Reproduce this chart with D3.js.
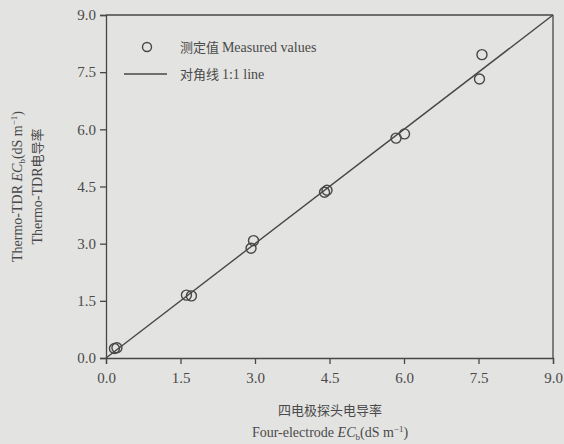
<!DOCTYPE html>
<html><head><meta charset="utf-8">
<script src="https://cdn.jsdelivr.net/npm/d3@7"></script>
<style>
html,body{margin:0;padding:0;background:#e3e3e1;}
svg{display:block;}
text{font-family:"Liberation Serif","Times New Roman",serif;fill:#4a4a4a;}
.cjk{font-family:"Noto Sans CJK SC",sans-serif;}
</style></head>
<body>
<script>
const xValues = [0.17, 0.22, 1.62, 1.72, 2.92, 2.97, 4.40, 4.45, 5.84, 6.01, 7.52, 7.57];
const yValues = [0.25, 0.27, 1.65, 1.63, 2.88, 3.08, 4.35, 4.40, 5.77, 5.88, 7.32, 7.96];
const tickValues = [0, 1.5, 3.0, 4.5, 6.0, 7.5, 9.0];
const oneToOne = [[0, 0], [9, 9]];
const legendLabels = ["测定值 Measured values", "对角线 1:1 line"];

const W = 564, H = 444;
const m = {left:106, right:11, top:15, bottom:86};
const svg = d3.select("body").append("svg").attr("width", W).attr("height", H);
const x = d3.scaleLinear().domain([0, 9]).range([m.left, W - m.right]);
const y = d3.scaleLinear().domain([0, 9]).range([H - m.bottom, m.top]);
const ink = "#474747";

const fmt = d3.format(".1f");
const gx = svg.append("g").attr("transform", `translate(0,${H - m.bottom})`)
  .call(d3.axisBottom(x).tickValues(tickValues).tickFormat(fmt).tickSize(6).tickPadding(8));
const gy = svg.append("g").attr("transform", `translate(${m.left},0)`)
  .call(d3.axisLeft(y).tickValues(tickValues).tickFormat(fmt).tickSize(6).tickPadding(4));
[gx, gy].forEach(g => {
  g.selectAll("path,line").attr("stroke", ink).attr("stroke-width", 1.3);
  g.selectAll("text").style("font-family", '"Liberation Serif",serif').style("font-size", "15px").attr("fill", "#4a4a4a");
});
// top and right frame
svg.append("line").attr("x1", x(0)).attr("x2", x(9)).attr("y1", y(9)).attr("y2", y(9)).attr("stroke", ink).attr("stroke-width", 1.3);
svg.append("line").attr("x1", x(9)).attr("x2", x(9)).attr("y1", y(9)).attr("y2", y(0)).attr("stroke", ink).attr("stroke-width", 1.3);

// 1:1 line
svg.append("path").datum(oneToOne)
  .attr("d", d3.line().x(d => x(d[0])).y(d => y(d[1])))
  .attr("stroke", ink).attr("stroke-width", 1.4).attr("fill", "none");

// points
svg.append("g").selectAll("circle").data(xValues.map((v, i) => [v, yValues[i]]))
  .join("circle").attr("cx", d => x(d[0])).attr("cy", d => y(d[1])).attr("r", 5)
  .attr("fill", "none").attr("stroke", ink).attr("stroke-width", 1.4);

// legend
svg.append("circle").attr("cx", 147).attr("cy", 47).attr("r", 4.5).attr("fill", "none").attr("stroke", ink).attr("stroke-width", 1.4);
svg.append("line").attr("x1", 124).attr("x2", 167).attr("y1", 74).attr("y2", 74).attr("stroke", ink).attr("stroke-width", 1.4);
const lt1 = svg.append("text").attr("x", 180).attr("y", 52).style("font-size", "14px");
lt1.append("tspan").attr("class", "cjk").style("font-size", "13px").text("测定值 ");
lt1.append("tspan").text("Measured values");
const lt2 = svg.append("text").attr("x", 180).attr("y", 79).style("font-size", "14px");
lt2.append("tspan").attr("class", "cjk").style("font-size", "13px").text("对角线 ");
lt2.append("tspan").text("1:1 line");

// x axis title
svg.append("text").attr("class", "cjk").attr("x", 330).attr("y", 415).attr("text-anchor", "middle").style("font-size", "13px").text("四电极探头电导率");
const xt = svg.append("text").attr("x", 330).attr("y", 437).attr("text-anchor", "middle").style("font-size", "14px");
xt.append("tspan").text("Four-electrode ");
xt.append("tspan").style("font-style", "italic").text("EC");
xt.append("tspan").attr("dy", 3).style("font-size", "9px").text("b");
xt.append("tspan").attr("dy", -3).text("(dS m");
xt.append("tspan").attr("dy", -5).style("font-size", "9px").text("−1");
xt.append("tspan").attr("dy", 5).text(")");

// y axis title
const cy = (y(0) + y(9)) / 2;
const yt = svg.append("text").attr("transform", `translate(22,${cy}) rotate(-90)`).attr("text-anchor", "middle").style("font-size", "14px");
yt.append("tspan").text("Thermo-TDR  ");
yt.append("tspan").style("font-style", "italic").text("EC");
yt.append("tspan").attr("dy", 3).style("font-size", "9px").text("b");
yt.append("tspan").attr("dy", -3).text("(dS m");
yt.append("tspan").attr("dy", -5).style("font-size", "9px").text("−1");
yt.append("tspan").attr("dy", 5).text(")");
const yt2 = svg.append("text").attr("transform", `translate(42,${cy}) rotate(-90)`).attr("text-anchor", "middle").style("font-size", "14px");
yt2.append("tspan").text("Thermo-TDR");
yt2.append("tspan").attr("class", "cjk").style("font-size", "13px").text("电导率");
</script>
</body></html>
